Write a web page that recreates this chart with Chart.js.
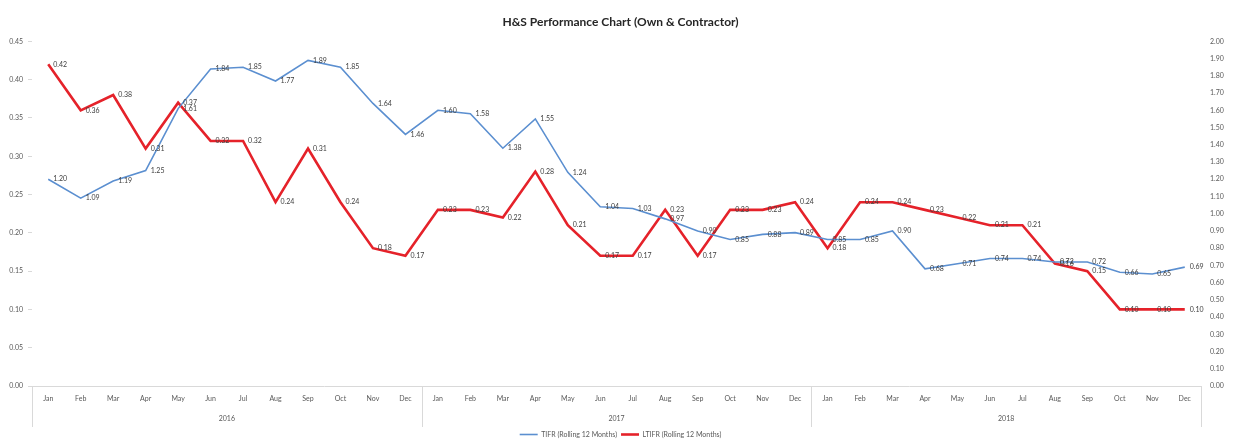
<!DOCTYPE html>
<html>
<head>
<meta charset="utf-8">
<script src="https://cdn.jsdelivr.net/npm/chart.js@4.4.1/dist/chart.umd.min.js"></script>
<style>
  html, body { margin: 0; padding: 0; background: #fff; }
  #wrap { width: 1253px; height: 448px; }
</style>
</head>
<body>
<div id="wrap"><canvas id="chart" width="1253" height="448"></canvas></div>
<script>
// values
const months = ['Jan','Feb','Mar','Apr','May','Jun','Jul','Aug','Sep','Oct','Nov','Dec'];
const years = ['2016','2017','2018'];
const categories = years.flatMap(() => months);

// TIFR, right axis
const tifr = [
  1.20, 1.09, 1.19, 1.25, 1.61, 1.84, 1.85, 1.77, 1.89, 1.85, 1.64, 1.46,
  1.60, 1.58, 1.38, 1.55, 1.24, 1.04, 1.03, 0.97, 0.90, 0.85, 0.88, 0.89,
  0.85, 0.85, 0.90, 0.68, 0.71, 0.74, 0.74, 0.72, 0.72, 0.66, 0.65, 0.69
];
// LTIFR, left axis
const ltifr = [
  0.42, 0.36, 0.38, 0.31, 0.37, 0.32, 0.32, 0.24, 0.31, 0.24, 0.18, 0.17,
  0.23, 0.23, 0.22, 0.28, 0.21, 0.17, 0.17, 0.23, 0.17, 0.23, 0.23, 0.24,
  0.18, 0.24, 0.24, 0.23, 0.22, 0.21, 0.21, 0.16, 0.15, 0.10, 0.10, 0.10
];

const FONT = 'Lato, "Open Sans", sans-serif';
const TICK = '#595959';

// numbers next to every point, Excel "right" position
const valueLabels = {
  id: 'valueLabels',
  afterDatasetsDraw(chart){
    const ctx = chart.ctx;
    ctx.save();
    ctx.font = '7px ' + FONT;
    ctx.fillStyle = '#404040';
    ctx.textAlign = 'left';
    ctx.textBaseline = 'middle';
    chart.data.datasets.forEach((ds, i) => {
      chart.getDatasetMeta(i).data.forEach((pt, j) => {
        ctx.fillText(ds.data[j].toFixed(2), pt.x + 5, pt.y);
      });
    });
    ctx.restore();
  }
};

// vertical dividers between year groups on the category axis
const yearDividers = {
  id: 'yearDividers',
  afterDraw(chart){
    const x = chart.scales.x, yr = chart.scales.years, ctx = chart.ctx;
    ctx.save();
    ctx.strokeStyle = '#d9d9d9';
    ctx.lineWidth = 1;
    for (let k = 0; k <= years.length; k++){
      const i = k * months.length;
      let px;
      if (i === 0) px = x.left;
      else if (i >= categories.length) px = x.right;
      else px = (x.getPixelForValue(i - 1) + x.getPixelForValue(i)) / 2;
      px = Math.round(px) + 0.5;
      ctx.beginPath();
      ctx.moveTo(px, x.top);
      ctx.lineTo(px, yr.bottom);
      ctx.stroke();
    }
    ctx.restore();
  }
};

new Chart(document.getElementById('chart'), {
  type: 'line',
  data: {
    labels: categories,
    datasets: [
      { label: 'TIFR (Rolling 12 Months)', data: tifr, yAxisID: 'yR',
        borderColor: '#5b8fd0', backgroundColor: '#5b8fd0', borderWidth: 1.6,
        pointRadius: 0, tension: 0 },
      { label: 'LTIFR (Rolling 12 Months)', data: ltifr, yAxisID: 'yL',
        borderColor: '#e5222a', backgroundColor: '#e5222a', borderWidth: 2.6,
        pointRadius: 0, tension: 0 }
    ]
  },
  options: {
    responsive: false, animation: false, devicePixelRatio: 1,
    layout: { padding: { left: 0, right: 12, top: 0, bottom: 0 } },
    scales: {
      x: {
        type: 'category', offset: true, weight: 0,
        grid: { display: false, drawTicks: false },
        border: { display: true, color: '#d9d9d9' },
        ticks: { font: { size: 7, family: FONT }, color: TICK, autoSkip: false, maxRotation: 0, padding: 9 },
        afterFit: s => { s.height = 24; }
      },
      years: {
        type: 'category', labels: years, position: 'bottom', offset: true, weight: 1,
        grid: { display: false, drawTicks: false }, border: { display: false },
        ticks: { font: { size: 7, family: FONT }, color: TICK, maxRotation: 0, padding: 5 },
        afterFit: s => { s.height = 17; }
      },
      yL: {
        position: 'left', min: 0, max: 0.45,
        grid: { drawOnChartArea: false, tickLength: 4, color: '#d9d9d9' },
        border: { display: false },
        ticks: { stepSize: 0.05, font: { size: 7, family: FONT }, color: TICK, padding: 5,
                 callback: v => Number(v).toFixed(2) },
        afterFit: s => { s.width = 32; }
      },
      yR: {
        position: 'right', min: 0, max: 2,
        grid: { display: false, drawTicks: false }, border: { display: false },
        ticks: { stepSize: 0.1, font: { size: 7, family: FONT }, color: TICK, padding: 9,
                 callback: v => Number(v).toFixed(2) },
        afterFit: s => { s.width = 40; }
      }
    },
    plugins: {
      title: {
        display: true, text: 'H&S Performance Chart (Own & Contractor)',
        font: { size: 12, weight: 'bold', family: FONT }, color: '#262626',
        padding: { top: 15, bottom: 12 }
      },
      legend: {
        position: 'bottom',
        labels: { font: { size: 7, family: FONT }, color: TICK, usePointStyle: true,
                  pointStyle: 'line', pointStyleWidth: 18, padding: 4 }
      },
      tooltip: { enabled: false }
    }
  },
  plugins: [valueLabels, yearDividers]
});
</script>
</body>
</html>
